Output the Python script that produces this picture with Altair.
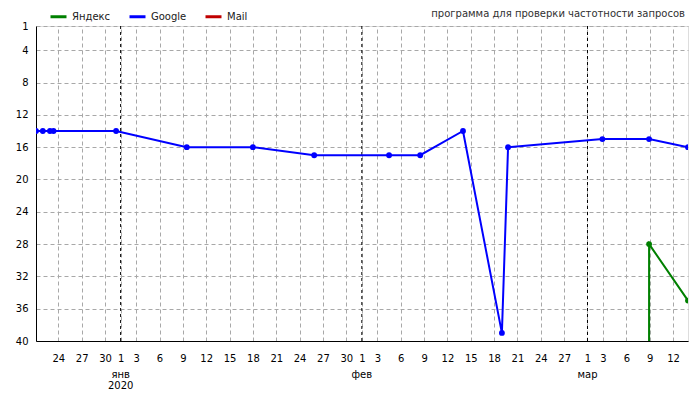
import altair as alt
import pandas as pd

# ---- data ----
google_dates = ["2019-12-21T03:00:00", "2019-12-22T00:00:00", "2019-12-22T22:00:00",
                "2019-12-23T09:00:00", "2019-12-31T10:00:00", "2020-01-09T12:00:00",
                "2020-01-18T00:00:00", "2020-01-25T21:00:00", "2020-02-04T12:00:00",
                "2020-02-08T12:00:00", "2020-02-14T00:00:00", "2020-02-19T00:00:00",
                "2020-02-19T19:00:00", "2020-03-02T22:00:00", "2020-03-08T22:00:00",
                "2020-03-13T22:00:00"]
google_pos = [14, 14, 14, 14, 14, 16, 16, 17, 17, 17, 14, 39, 16, 15, 15, 16]

yandex_dates = ["2020-03-08T21:30:00", "2020-03-08T22:00:00", "2020-03-13T22:00:00"]
yandex_pos = [100, 28, 35]

series_names = ["Яндекс", "Google", "Mail"]
series_colors = ["#008000", "#0000ff", "#c00000"]

month_dates = ["2020-01-01T00:00:00", "2020-02-01T00:00:00", "2020-03-01T00:00:00"]
month_labels = ["янв", "фев", "мар"]
year_dates = ["2020-01-01T00:00:00"]
year_labels = ["2020"]

y_ticks = [1, 4, 8, 12, 16, 20, 24, 28, 32, 36, 40]
tick_days = [(2019, 12, 24), (2019, 12, 27), (2019, 12, 30),
             (2020, 1, 1), (2020, 1, 3), (2020, 1, 6), (2020, 1, 9), (2020, 1, 12),
             (2020, 1, 15), (2020, 1, 18), (2020, 1, 21), (2020, 1, 24), (2020, 1, 27),
             (2020, 1, 30),
             (2020, 2, 1), (2020, 2, 3), (2020, 2, 6), (2020, 2, 9), (2020, 2, 12),
             (2020, 2, 15), (2020, 2, 18), (2020, 2, 21), (2020, 2, 24), (2020, 2, 27),
             (2020, 3, 1), (2020, 3, 3), (2020, 3, 6), (2020, 3, 9), (2020, 3, 12)]

title_text = ["программа для проверки частотности запросов"]

# ---- tables ----
df = pd.concat([
    pd.DataFrame({"date": google_dates, "pos": google_pos, "series": "Google"}),
    pd.DataFrame({"date": yandex_dates, "pos": yandex_pos, "series": "Яндекс"}),
], ignore_index=True)
months_df = pd.DataFrame({"date": month_dates, "label": month_labels})
year_df = pd.DataFrame({"date": year_dates, "label": year_labels})
title_df = pd.DataFrame({"label": title_text})

W, H = 652, 315
FONT = "DejaVu Sans"

x_scale = alt.Scale(domain=[alt.DateTime(year=2019, month=12, date=21, hours=3),
                            alt.DateTime(year=2020, month=3, date=13, hours=22)],
                    nice=False)
y_scale = alt.Scale(domain=[1, 40], reverse=True, nice=False, zero=False)
color_scale = alt.Scale(domain=series_names, range=series_colors)

x_axis = alt.Axis(values=[alt.DateTime(year=y, month=m, date=d) for (y, m, d) in tick_days],
                  tickCount=200, format="%-d", title=None, grid=True, gridColor="#a8a8a8",
                  gridDash=[4, 3], tickSize=0, labelPadding=12, labelOverlap=False,
                  labelFlush=False, labelFont=FONT, labelFontSize=10,
                  labelColor="#000000", domainColor="#000000")
y_axis = alt.Axis(values=y_ticks, tickCount=200, format="d", title=None, grid=True,
                  gridColor="#a8a8a8", gridDash=[4, 3], tickSize=0, labelPadding=8,
                  labelOverlap=False, labelFlush=False, labelFont=FONT,
                  labelFontSize=10, labelColor="#000000", domainColor="#000000")

base = alt.Chart(df)

lines = base.mark_line(strokeWidth=2, clip=True).encode(
    x=alt.X("date:T", scale=x_scale, axis=x_axis),
    y=alt.Y("pos:Q", scale=y_scale, axis=y_axis),
    color=alt.Color("series:N", scale=color_scale, sort=series_names,
                    legend=alt.Legend(orient="none", legendX=13, legendY=-19,
                                      direction="horizontal", title=None,
                                      symbolType="stroke", symbolStrokeWidth=3,
                                      symbolSize=256, labelFont=FONT, labelFontSize=10,
                                      labelColor="#202020", columnPadding=12,
                                      labelOffset=4)),
    detail="series:N",
)

points = base.mark_circle(size=34, opacity=1, clip=True).encode(
    x=alt.X("date:T", scale=x_scale, axis=x_axis),
    y=alt.Y("pos:Q", scale=y_scale, axis=y_axis),
    color=alt.Color("series:N", scale=color_scale, legend=None),
)

month_rules = alt.Chart(months_df).mark_rule(color="#000000", strokeDash=[3, 3],
                                             strokeWidth=1).encode(x="date:T")

month_text = alt.Chart(months_df).mark_text(font=FONT, fontSize=10, color="#000000",
                                            baseline="middle").encode(
    x="date:T", y=alt.value(H + 34), text="label:N")

year_text = alt.Chart(year_df).mark_text(font=FONT, fontSize=10, color="#000000",
                                         baseline="bottom").encode(
    x="date:T", y=alt.value(H + 50), text="label:N")

title_mark = alt.Chart(title_df).mark_text(font=FONT, fontSize=10, color="#303030",
                                           align="right", baseline="middle").encode(
    x=alt.value(W - 3), y=alt.value(-12), text="label:N")

chart = alt.layer(month_rules, lines, points, month_text, year_text, title_mark).properties(
    width=W, height=H,
    padding={"left": 28, "top": 18, "right": 4, "bottom": 51},
    autosize=alt.AutoSizeParams(type="none"),
).configure_view(stroke="#000000", strokeWidth=1).configure(background="white")

chart.save("out.html", embed_options={"renderer": "svg", "actions": False})
